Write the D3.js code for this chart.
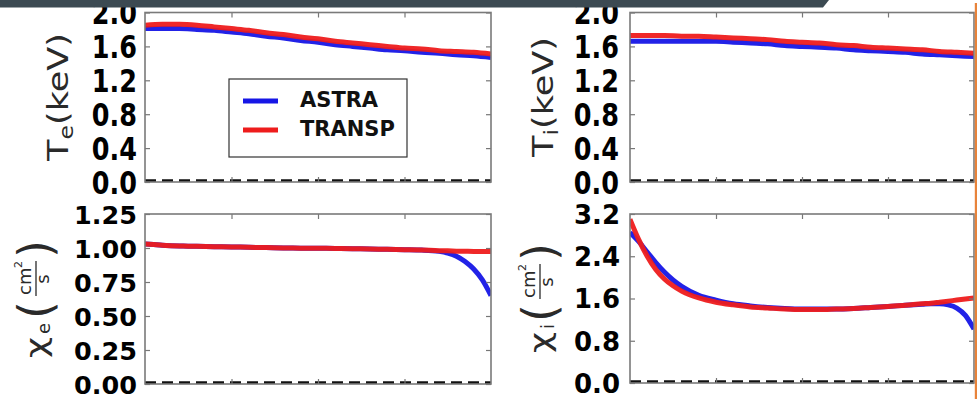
<!DOCTYPE html>
<html><head><meta charset="utf-8">
<script src="https://cdn.jsdelivr.net/npm/d3@7"></script>
<style>html,body{margin:0;padding:0;background:#fff;overflow:hidden}</style>
</head><body>
<svg id="chart" width="977" height="399" xmlns="http://www.w3.org/2000/svg"></svg>
<script>
// ---------------- data ----------------
const seriesNames = ["ASTRA", "TRANSP"];
const rhoCoarse = [0,0.05,0.1,0.15,0.2,0.25,0.3,0.35,0.4,0.45,0.5,0.55,0.6,0.65,0.7,0.75,0.8,0.85,0.9,0.95,1.0];
const rhoFine = [0,0.025,0.05,0.075,0.1,0.125,0.15,0.2,0.25,0.3,0.35,0.4,0.45,0.5,0.55,0.6,0.65,0.7,0.75,0.8,0.85,0.875,0.9,0.925,0.95,0.975,1.0];

const teAstra  = [1.81,1.81,1.81,1.80,1.79,1.77,1.75,1.72,1.70,1.67,1.65,1.62,1.60,1.58,1.56,1.55,1.53,1.52,1.50,1.49,1.47];
const teTransp = [1.85,1.86,1.86,1.85,1.83,1.81,1.79,1.76,1.74,1.71,1.69,1.66,1.64,1.62,1.60,1.58,1.57,1.55,1.54,1.53,1.51];

const tiAstra  = [1.66,1.66,1.66,1.66,1.66,1.66,1.65,1.64,1.63,1.61,1.60,1.59,1.58,1.56,1.55,1.54,1.53,1.51,1.50,1.49,1.48];
const tiTransp = [1.73,1.73,1.73,1.72,1.72,1.71,1.70,1.69,1.68,1.66,1.65,1.64,1.62,1.61,1.59,1.58,1.57,1.56,1.54,1.53,1.52];

const chieAstra  = [1.03,1.025,1.02,1.017,1.015,1.013,1.012,1.01,1.008,1.005,1.003,1.0,0.999,0.998,0.997,0.995,0.993,0.99,0.988,0.985,0.975,0.962,0.94,0.90,0.845,0.765,0.65];
const chieTransp = [1.03,1.025,1.02,1.017,1.015,1.013,1.012,1.01,1.008,1.005,1.003,1.0,0.999,0.998,0.997,0.995,0.993,0.99,0.988,0.985,0.98,0.979,0.977,0.976,0.975,0.975,0.975];

const chiiAstra  = [2.85,2.68,2.48,2.28,2.10,1.95,1.83,1.66,1.57,1.50,1.46,1.43,1.41,1.40,1.40,1.40,1.41,1.43,1.45,1.47,1.49,1.50,1.50,1.48,1.42,1.28,1.02];
const chiiTransp = [3.10,2.72,2.40,2.15,1.97,1.84,1.74,1.61,1.53,1.48,1.44,1.42,1.40,1.39,1.39,1.40,1.41,1.43,1.45,1.47,1.50,1.51,1.53,1.55,1.57,1.59,1.61];

const teTicks   = [0,0.4,0.8,1.2,1.6,2.0];
const teTickLabels = ["0.0","0.4","0.8","1.2","1.6","2.0"];
const chieTicks = [0,0.25,0.5,0.75,1.0,1.25];
const chieTickLabels = ["0.00","0.25","0.50","0.75","1.00","1.25"];
const chiiTicks = [0,0.8,1.6,2.4,3.2];
const chiiTickLabels = ["0.0","0.8","1.6","2.4","3.2"];
const xTicks = [0.25,0.5,0.75];

// ---------------- style / layout ----------------
const BLUE = "#1616e6", RED = "#ee1c1c";
const svg = d3.select("#chart");
const defs = svg.append("defs");

const panels = [
  {id:"te", x0:145, x1:491, y0:12.5, y1:182, dom:[0,2], ticks:teTicks, tl:teTickLabels, pad:8, fs:25.5, sy:1.22,
   xs:[rhoCoarse,rhoCoarse], ys:[teAstra,teTransp]},
  {id:"ti", x0:630, x1:974, y0:12.5, y1:182, dom:[0,2], ticks:teTicks, tl:teTickLabels, pad:11, fs:25.5, sy:1.22,
   xs:[rhoCoarse,rhoCoarse], ys:[tiAstra,tiTransp]},
  {id:"chie", x0:145, x1:491, y0:214, y1:384, dom:[0,1.25], ticks:chieTicks, tl:chieTickLabels, pad:8, fs:25.5, sy:1,
   xs:[rhoFine,rhoFine], ys:[chieAstra,chieTransp]},
  {id:"chii", x0:630, x1:974, y0:214, y1:383, dom:[0,3.2], ticks:chiiTicks, tl:chiiTickLabels, pad:10, fs:26, sy:1,
   xs:[rhoFine,rhoFine], ys:[chiiAstra,chiiTransp]}
];

panels.forEach(p => {
  const x = d3.scaleLinear().domain([0,1]).range([p.x0,p.x1]);
  const y = d3.scaleLinear().domain(p.dom).range([p.y1,p.y0]);
  defs.append("clipPath").attr("id","clip-"+p.id)
    .append("rect").attr("x",p.x0).attr("y",p.y0).attr("width",p.x1-p.x0).attr("height",p.y1-p.y0);
  const g = svg.append("g");
  g.append("rect").attr("x",p.x0).attr("y",p.y0).attr("width",p.x1-p.x0).attr("height",p.y1-p.y0).attr("fill","#fff");
  const cg = g.append("g").attr("clip-path","url(#clip-"+p.id+")");
  // dashed zero line
  cg.append("line").attr("x1",x(0)).attr("x2",x(1)).attr("y1",y(0)).attr("y2",y(0))
    .attr("stroke","#111").attr("stroke-width",5.5).attr("stroke-dasharray","11,6");
  const colors = [BLUE, RED];
  [0,1].forEach(i => {
    const pts = p.xs[i].map((v,j)=>[v,p.ys[i][j]]);
    const line = d3.line().x(d=>x(d[0])).y(d=>y(d[1])).curve(d3.curveMonotoneX);
    cg.append("path").attr("d",line(pts)).attr("fill","none").attr("stroke",colors[i])
      .attr("stroke-width",5).attr("stroke-linejoin","round").attr("opacity",0.95);
  });
  // axes
  const fmt = (d) => p.tl[p.ticks.indexOf(d)];
  const la = g.append("g").attr("transform",`translate(${p.x0},0)`)
    .call(d3.axisLeft(y).tickValues(p.ticks).tickFormat(fmt).tickSize(-5).tickPadding(p.pad));
  la.select(".domain").remove();
  la.selectAll("line").attr("stroke","#777").attr("stroke-width",1.2);
  la.selectAll("text").attr("fill","#000").attr("font-size",p.fs).attr("font-weight","bold")
    .attr("font-family","DejaVu Sans, sans-serif").attr("dy","0.36em")
    .attr("transform",`scale(1,${p.sy})`);
  const ra = g.append("g").attr("transform",`translate(${p.x1},0)`)
    .call(d3.axisRight(y).tickValues(p.ticks).tickFormat("").tickSize(-5));
  ra.select(".domain").remove();
  ra.selectAll("line").attr("stroke","#777").attr("stroke-width",1.2);
  const ta = g.append("g").attr("transform",`translate(0,${p.y0})`)
    .call(d3.axisTop(x).tickValues(xTicks).tickFormat("").tickSize(-5));
  ta.select(".domain").remove();
  ta.selectAll("line").attr("stroke","#777").attr("stroke-width",1.2);
  const ba = g.append("g").attr("transform",`translate(0,${p.y1})`)
    .call(d3.axisBottom(x).tickValues(xTicks).tickFormat("").tickSize(-5));
  ba.select(".domain").remove();
  ba.selectAll("line").attr("stroke","#777").attr("stroke-width",1.2);
  g.append("rect").attr("x",p.x0).attr("y",p.y0).attr("width",p.x1-p.x0).attr("height",p.y1-p.y0)
    .attr("fill","none").attr("stroke","#7a7a7a").attr("stroke-width",1.6);
});

// ---------------- axis titles ----------------
const LBL = "#2a2a2a";
function tLabel(cx, cy, sub) {
  const t = svg.append("text").attr("transform",`translate(${cx},${cy}) scale(1,1.25) rotate(-90)`)
    .attr("text-anchor","middle").attr("font-family","DejaVu Sans, sans-serif").attr("font-size",28).attr("fill",LBL);
  t.append("tspan").text("T");
  t.append("tspan").attr("font-size",19).attr("dy",5).text(sub);
  t.append("tspan").attr("dy",-5).text("(keV)");
}
tLabel(68, 97, "e");
tLabel(553, 97, "i");

function chiLabel(ox, oy, sub, shift) {
  const g = svg.append("g").attr("transform",`translate(${ox},${oy}) rotate(-90)`)
    .attr("font-family","DejaVu Sans, sans-serif").attr("fill",LBL);
  g.append("text").attr("transform","scale(1.3,1)").attr("x",0).attr("y",0).attr("font-size",28).text("χ");
  g.append("text").attr("x",24).attr("y",4).attr("font-size",18).text(sub);
  const s = shift;
  g.append("text").attr("x",39+s).attr("y",5).attr("font-size",46).text("(");
  g.append("text").attr("x",63+s).attr("y",-15).attr("font-size",18).text("cm");
  g.append("text").attr("x",90+s).attr("y",-24).attr("font-size",11).text("2");
  g.append("line").attr("x1",62+s).attr("x2",97+s).attr("y1",-10).attr("y2",-10).attr("stroke",LBL).attr("stroke-width",1.3);
  g.append("text").attr("x",79+s).attr("y",3).attr("font-size",18).attr("text-anchor","middle").text("s");
  g.append("text").attr("x",100+s).attr("y",5).attr("font-size",46).text(")");
}
chiLabel(46, 358, "e", 0);
chiLabel(550, 353, "i", -8);

// ---------------- legend ----------------
const lg = svg.append("g");
lg.append("rect").attr("x",229).attr("y",79).attr("width",178).attr("height",78).attr("fill","#fff")
  .attr("stroke","#333").attr("stroke-width",1.2);
[BLUE, RED].forEach((c,i) => {
  const yy = 101 + i*29;
  lg.append("line").attr("x1",243).attr("x2",278).attr("y1",yy).attr("y2",yy).attr("stroke",c).attr("stroke-width",5);
  lg.append("text").attr("x",300).attr("y",yy+6).attr("font-family","DejaVu Sans, sans-serif")
    .attr("font-weight","bold").attr("font-size",21).attr("fill","#111").text(seriesNames[i]);
});

// ---------------- page decorations ----------------
svg.append("path").attr("d","M0,0 L829,0 L823,7.5 L0,7.5 Z").attr("fill","#3c4a52");
svg.append("rect").attr("x",974.8).attr("y",3).attr("width",2.2).attr("height",396).attr("fill","#e8833a");
</script>
</body></html>
